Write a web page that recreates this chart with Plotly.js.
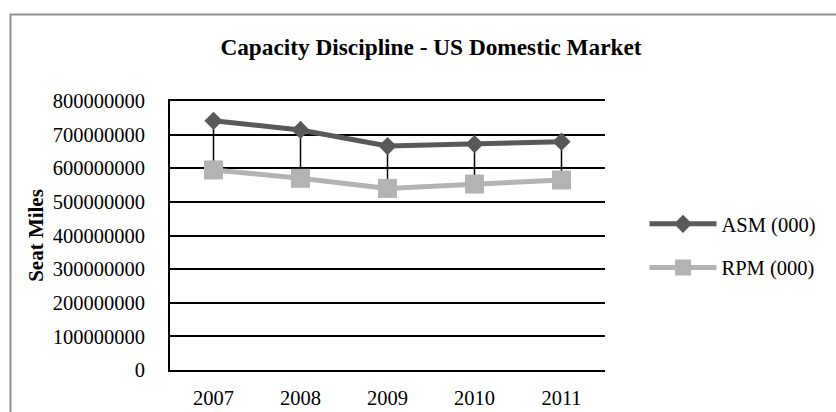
<!DOCTYPE html>
<html>
<head>
<meta charset="utf-8">
<script src="https://cdn.plot.ly/plotly-3.0.1.min.js"></script>
<style>
  html, body { margin: 0; padding: 0; background: #ffffff; }
  #chart { width: 836px; height: 412px; }
</style>
</head>
<body>
<div id="chart"></div>
<script>
// Seat miles, US domestic market (thousands)
const years = ['2007', '2008', '2009', '2010', '2011'];
const asmValues = [741000000, 714000000, 666000000, 672000000, 679000000];
const rpmValues = [595000000, 570000000, 540000000, 553000000, 565000000];
const seriesNames = ['ASM (000)', 'RPM (000)'];

const serif = '"Liberation Serif", "Times New Roman", Times, serif';

// vertical high-low lines joining ASM and RPM for each year
const dropX = [];
const dropY = [];
years.forEach((yr, i) => {
  dropX.push(yr, yr, null);
  dropY.push(asmValues[i], rpmValues[i], null);
});

const traces = [
  {
    x: dropX, y: dropY, type: 'scatter', mode: 'lines',
    line: { color: '#000000', width: 1.5 },
    showlegend: false, hoverinfo: 'skip', cliponaxis: false
  },
  {
    x: years, y: asmValues, name: seriesNames[0], type: 'scatter', mode: 'lines+markers',
    line: { color: '#595959', width: 5 },
    marker: { symbol: 'diamond', size: 14, color: '#595959' },
    legendgroup: 'a', cliponaxis: false
  },
  {
    x: years, y: rpmValues, name: seriesNames[1], type: 'scatter', mode: 'lines+markers',
    line: { color: '#b3b3b3', width: 5 },
    marker: { symbol: 'square', size: 19, color: '#b3b3b3' },
    legendgroup: 'b', cliponaxis: false
  }
];

const layout = {
  width: 836, height: 412,
  margin: { l: 170, r: 231, t: 101, b: 42 },
  paper_bgcolor: '#ffffff', plot_bgcolor: '#ffffff',
  font: { family: serif, size: 20.5, color: '#000000' },
  title: {
    text: '<b>Capacity Discipline - US Domestic Market</b>',
    font: { family: serif, size: 23.3, color: '#000000' },
    x: 431 / 836, xref: 'container', xanchor: 'center',
    y: 1 - 47 / 412, yref: 'container', yanchor: 'middle'
  },
  xaxis: {
    type: 'category', range: [-0.5, 4.5],
    showgrid: false, zeroline: false,
    showline: true, mirror: true, linecolor: '#000000', linewidth: 2,
    ticks: '', ticklabelstandoff: 8,
    tickfont: { family: serif, size: 20.5 }
  },
  yaxis: {
    range: [0, 800000000], dtick: 100000000, tickformat: 'd',
    showgrid: true, gridcolor: '#000000', gridwidth: 2,
    zeroline: false,
    showline: true, linecolor: '#000000', linewidth: 2,
    ticks: '', ticklabelstandoff: 19,
    tickfont: { family: serif, size: 20.5 },
    title: { text: '<b>Seat Miles</b>', font: { family: serif, size: 21 }, standoff: 3 }
  },
  legend: {
    x: 1.0908, xanchor: 'left', y: 0.461, yanchor: 'middle',
    traceorder: 'grouped', tracegroupgap: 14,
    itemwidth: 67,
    font: { family: serif, size: 20.5 },
    bgcolor: 'rgba(0,0,0,0)'
  },
  shapes: [
    {
      type: 'rect', xref: 'paper', yref: 'paper', layer: 'below',
      x0: (10.5 - 170) / 435, x1: 2, y0: -1, y1: (370 - 14.5) / 269,
      line: { color: '#8f8f8f', width: 2 }, fillcolor: 'rgba(0,0,0,0)'
    }
  ],
  hovermode: false
};

Plotly.newPlot('chart', traces, layout, { displayModeBar: false, staticPlot: true });
</script>
</body>
</html>
